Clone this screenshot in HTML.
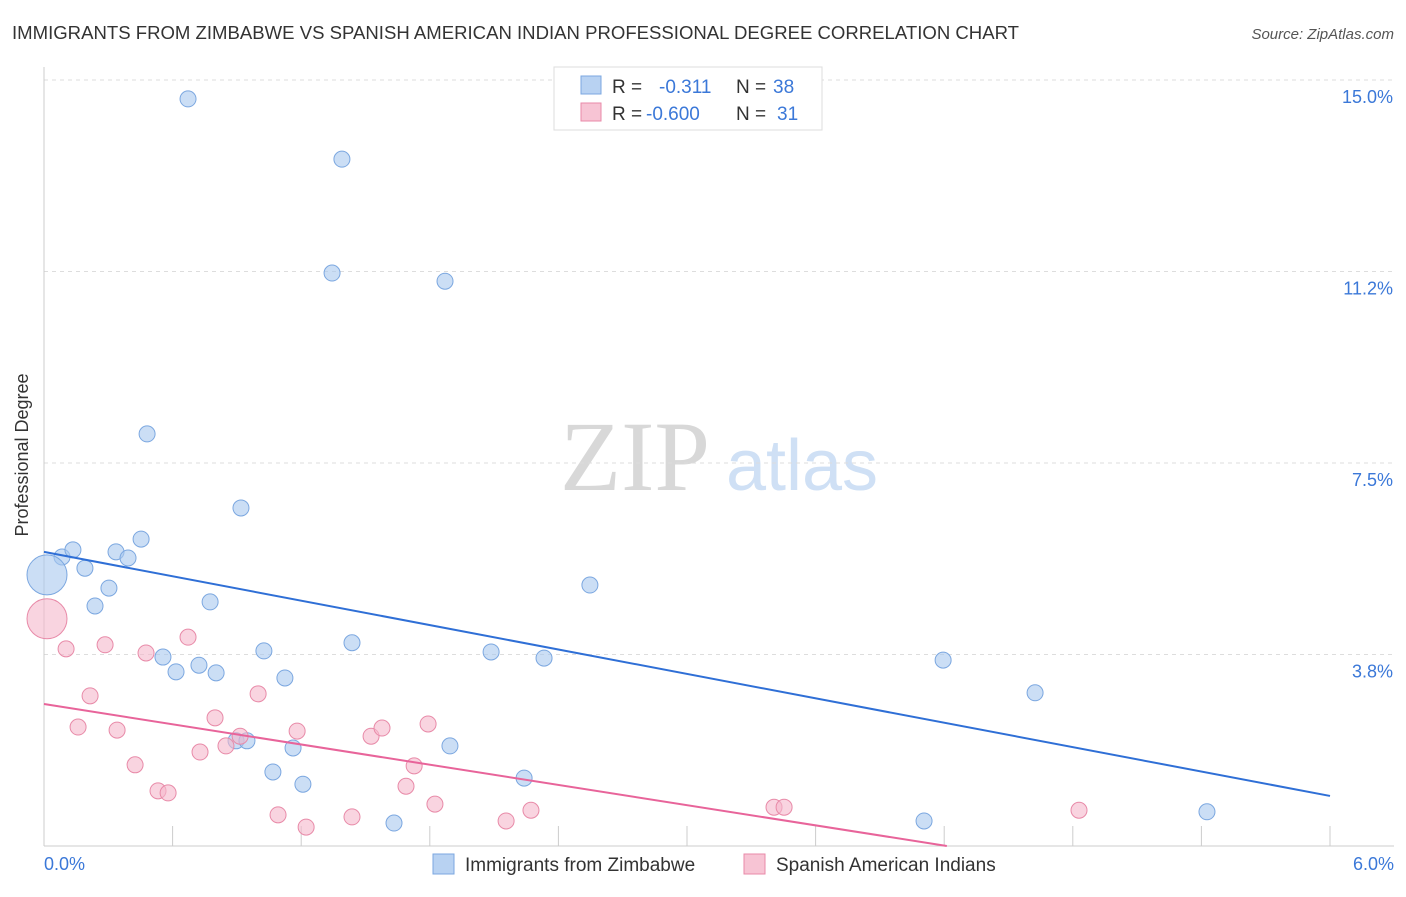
<!DOCTYPE html>
<html><head><meta charset="utf-8"><style>
body{margin:0;background:#fff;font-family:"Liberation Sans",sans-serif;}
</style></head><body>
<svg width="1406" height="892" viewBox="0 0 1406 892" xmlns="http://www.w3.org/2000/svg" style="font-family:'Liberation Sans',sans-serif">
<text x="12" y="39" font-size="18" fill="#333" textLength="1007" lengthAdjust="spacingAndGlyphs">IMMIGRANTS FROM ZIMBABWE VS SPANISH AMERICAN INDIAN PROFESSIONAL DEGREE CORRELATION CHART</text>
<text x="1394" y="39" font-size="15" fill="#555" font-style="italic" text-anchor="end">Source: ZipAtlas.com</text>
<g>
<text x="635" y="490" font-size="100" fill="#d8d8d8" style="font-family:'Liberation Serif',serif" text-anchor="middle">ZIP</text>
<text x="802" y="490" font-size="72" fill="#cfe0f5" text-anchor="middle">atlas</text>
</g>
<g id="grid"></g>
<line x1="44" y1="67" x2="44" y2="846" stroke="#ccc"/>
<line x1="44" y1="846" x2="1394" y2="846" stroke="#ccc"/>
<text x="28" y="455" font-size="18" fill="#333" transform="rotate(-90 28 455)" text-anchor="middle">Professional Degree</text>
<text x="44" y="870" font-size="18" fill="#3b78d8">0.0%</text>
<text x="1394" y="870" font-size="18" fill="#3b78d8" text-anchor="end">6.0%</text>
<g id="marks"></g>
<g>
<rect x="554" y="67" width="268" height="63" fill="#fff" stroke="#ddd"/>
<rect x="581" y="76" width="20" height="18" fill="#b8d2f2" stroke="#7ba7e0"/>
<rect x="581" y="103" width="20" height="18" fill="#f7c4d4" stroke="#e88aa8"/>
<text x="612" y="93" font-size="19" fill="#333">R = <tspan fill="#3b78d8" x="659">-0.311</tspan><tspan fill="#333" x="736">N = </tspan><tspan fill="#3b78d8" x="773">38</tspan></text>
<text x="612" y="120" font-size="19" fill="#333">R = <tspan fill="#3b78d8" x="646">-0.600</tspan><tspan fill="#333" x="736">N = </tspan><tspan fill="#3b78d8" x="777">31</tspan></text>
</g>
<g>
<rect x="433" y="854" width="21" height="20" fill="#b8d2f2" stroke="#7ba7e0"/>
<text x="465" y="871" font-size="19" fill="#333">Immigrants from Zimbabwe</text>
<rect x="744" y="854" width="21" height="20" fill="#f7c4d4" stroke="#e88aa8"/>
<text x="776" y="871" font-size="19" fill="#333">Spanish American Indians</text>
</g>
</svg>
<script>
const yTicks=[3.75,7.5,11.25,15.0];
const yTickLabels=["3.8%","7.5%","11.2%","15.0%"];
const xTicks=[0.6,1.2,1.8,2.4,3.0,3.6,4.2,4.8,5.4,6.0];
const blueX=[0.672,1.390,1.344,1.871,0.481,0.919,0.084,0.135,0.191,0.238,0.303,0.336,0.392,0.453,0.775,2.547,0.555,0.616,0.723,0.803,1.026,1.124,1.437,2.086,2.333,4.195,4.624,0.896,0.947,1.162,1.894,1.068,1.208,2.240,1.633,4.106,5.426,0.014];
const blueY=[14.63,13.45,11.22,11.06,8.07,6.62,5.66,5.80,5.44,4.70,5.05,5.76,5.64,6.01,4.78,5.11,3.70,3.41,3.54,3.39,3.82,3.29,3.98,3.80,3.68,3.64,3.00,2.06,2.06,1.92,1.96,1.45,1.21,1.33,0.45,0.49,0.67,5.31];
const pinkX=[0.103,0.215,0.159,0.285,0.341,0.425,0.476,0.532,0.579,0.672,0.728,0.798,0.849,0.915,0.999,1.092,1.181,1.223,1.437,1.526,1.577,1.689,1.727,1.792,1.824,2.156,2.272,3.406,3.453,4.829,0.014];
const pinkY=[3.86,2.94,2.33,3.94,2.27,1.59,3.78,1.08,1.04,4.09,1.84,2.51,1.96,2.15,2.98,0.61,2.25,0.37,0.57,2.15,2.31,1.17,1.57,2.39,0.82,0.49,0.70,0.76,0.76,0.70,4.45];
const blueTrend=[5.76,0.98];
const pinkTrend=[2.78,-1.18];
const NS="http://www.w3.org/2000/svg";
const sx=v=>44+v/6*1286, sy=v=>846-v/3.75*191.5;
function mk(t,a,p){const e=document.createElementNS(NS,t);for(const k in a)e.setAttribute(k,a[k]);p.appendChild(e);return e;}
const grid=document.getElementById('grid'), marks=document.getElementById('marks');
yTicks.forEach((v,i)=>{const y=sy(v);
 const l=mk('line',{x1:44,x2:1394,y1:y,y2:y,stroke:'#ddd','stroke-dasharray':'4 4'},grid);
 
 
 const t=mk('text',{x:1393,y:y+23,'font-size':18,fill:'#3b78d8','text-anchor':'end'},grid);t.textContent=yTickLabels[i];
 
 });
xTicks.forEach(v=>{const x=sx(v);const l=mk('line',{x1:x,x2:x,y1:826,y2:846,stroke:'#ccc'},grid);
 
 });
function pts(X,Y,fill,stroke,name){X.forEach((x,i)=>{const big=i===X.length-1;
 const c=mk('circle',{cx:sx(x),cy:sy(Y[i]),r:big?20:8,fill:fill,'fill-opacity':0.6,stroke:stroke,'stroke-width':1},marks);
 
 });}
pts(blueX,blueY,'#a9c8ef','#7ba7e0','zimbabwe-point');
pts(pinkX,pinkY,'#f5b8cb','#e88aa8','spanish-american-indian-point');
let bl=mk('line',{x1:sx(0),y1:sy(blueTrend[0]),x2:sx(6),y2:sy(blueTrend[1]),stroke:'#2f6fd6','stroke-width':2},marks);


const xz=6*pinkTrend[0]/(pinkTrend[0]-pinkTrend[1]);
let pl=mk('line',{x1:sx(0),y1:sy(pinkTrend[0]),x2:sx(Math.min(6,xz)),y2:sy(pinkTrend[0]+(pinkTrend[1]-pinkTrend[0])*Math.min(6,xz)/6),stroke:'#e8649a','stroke-width':2},marks);


</script>
</body></html>
